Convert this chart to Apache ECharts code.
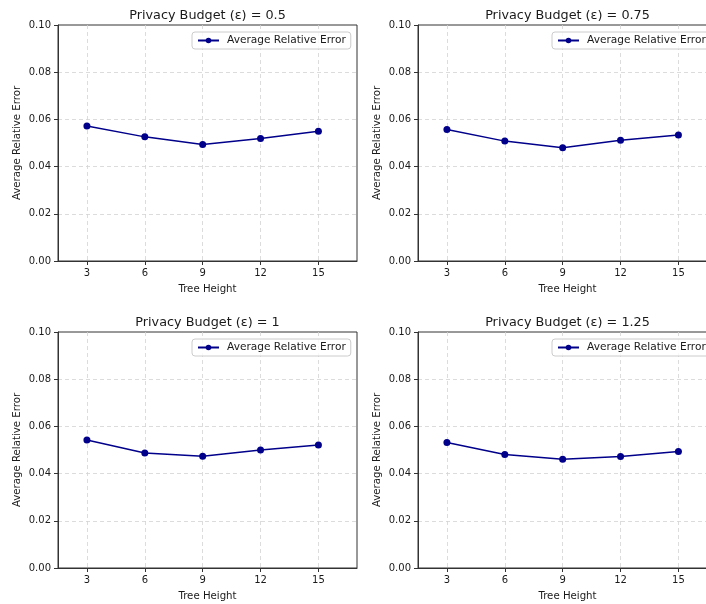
<!DOCTYPE html>
<html>
<head>
<meta charset="utf-8">
<script src="https://cdn.jsdelivr.net/npm/echarts@6/dist/echarts.min.js"></script>
<style>
  html, body { margin: 0; padding: 0; background: #fff; }
  #main { width: 706px; height: 604px; }
</style>
</head>
<body>
<div id="main"></div>
<script>
// tree heights on the x axis
const treeHeights = [3, 6, 9, 12, 15];
const epsilons = ['0.5', '0.75', '1', '1.25'];

// average relative error per privacy budget
const errEps05 = [0.0572, 0.0526, 0.0494, 0.0519, 0.0550];
const errEps075 = [0.0557, 0.0508, 0.0480, 0.0512, 0.0534];
const errEps1 = [0.0542, 0.0487, 0.0474, 0.0500, 0.0521];
const errEps125 = [0.0532, 0.0481, 0.0461, 0.0472, 0.0494];

const seriesName = 'Average Relative Error';
const allErrors = [errEps05, errEps075, errEps1, errEps125];

const font = 'DejaVu Sans';
const navy = '#00008b';

// grid boxes (left, top) for the 2x2 layout
const boxes = [
  { left: 58, top: 25 },
  { left: 418, top: 25 },
  { left: 58, top: 332 },
  { left: 418, top: 332 }
];
const W = 299, H = 236;

const chart = echarts.init(document.getElementById('main'), null, { renderer: 'canvas' });

const grid = [], xAxis = [], yAxis = [], series = [], title = [], legend = [];

boxes.forEach(function (b, i) {
  grid.push({
    left: b.left, top: b.top, width: W, height: H,
    outerBoundsMode: 'none',
    show: true, borderColor: '#333', borderWidth: 1, backgroundColor: 'transparent'
  });
  title.push({
    text: 'Privacy Budget (\u03b5) = ' + epsilons[i],
    left: b.left + W / 2 - 5,
    top: b.top - 21,
    textAlign: 'center',
    textStyle: { fontFamily: font, fontSize: 12.8, fontWeight: 'normal', color: '#1a1a1a' }
  });
  legend.push({
    data: [seriesName],
    left: b.left + 134,
    top: b.top + 7,
    orient: 'vertical',
    padding: [3, 5],
    itemWidth: 21,
    itemHeight: 7,
    borderColor: '#ccc',
    borderWidth: 1,
    borderRadius: 3,
    backgroundColor: 'rgba(255,255,255,0.8)',
    selectedMode: false,
    textStyle: { fontFamily: font, fontSize: 10.6, color: '#1a1a1a', padding: [0, 0, 0, 3] }
  });
  xAxis.push({
    type: 'value', gridIndex: i,
    min: 1.5, max: 17,
    name: 'Tree Height', nameLocation: 'middle', nameGap: 23,
    nameTextStyle: { fontFamily: font, fontSize: 10.2, color: '#1a1a1a' },
    axisLine: { show: true, lineStyle: { color: '#333' } },
    axisTick: { show: true, length: 4, customValues: treeHeights, lineStyle: { color: '#333' } },
    axisLabel: { customValues: treeHeights, margin: 7, fontFamily: font, fontSize: 10, color: '#1a1a1a' },
    splitLine: { show: true, lineStyle: { color: '#d3d3d3', type: [4, 3], width: 0.8 } }
  });
  yAxis.push({
    type: 'value', gridIndex: i,
    min: 0, max: 0.1, interval: 0.02,
    name: 'Average Relative Error', nameLocation: 'middle', nameGap: 36,
    nameTextStyle: { fontFamily: font, fontSize: 10.2, color: '#1a1a1a' },
    axisLine: { show: true, lineStyle: { color: '#333' } },
    axisTick: { show: true, length: 4, lineStyle: { color: '#333' } },
    axisLabel: {
      margin: 7, fontFamily: font, fontSize: 10, color: '#1a1a1a',
      formatter: function (v) { return v.toFixed(2); }
    },
    splitLine: {
      show: true, showMinLine: false, showMaxLine: false,
      lineStyle: { color: '#d3d3d3', type: [4, 3], width: 0.8 }
    }
  });
  series.push({
    name: seriesName,
    type: 'line',
    xAxisIndex: i, yAxisIndex: i,
    data: treeHeights.map(function (h, k) { return [h, allErrors[i][k]]; }),
    symbol: 'circle', symbolSize: 7,
    itemStyle: { color: navy },
    lineStyle: { color: navy, width: 1.5 },
    animation: false
  });
});

chart.setOption({
  backgroundColor: '#fff',
  animation: false,
  title: title,
  legend: legend,
  grid: grid,
  xAxis: xAxis,
  yAxis: yAxis,
  series: series
});
</script>
</body>
</html>
